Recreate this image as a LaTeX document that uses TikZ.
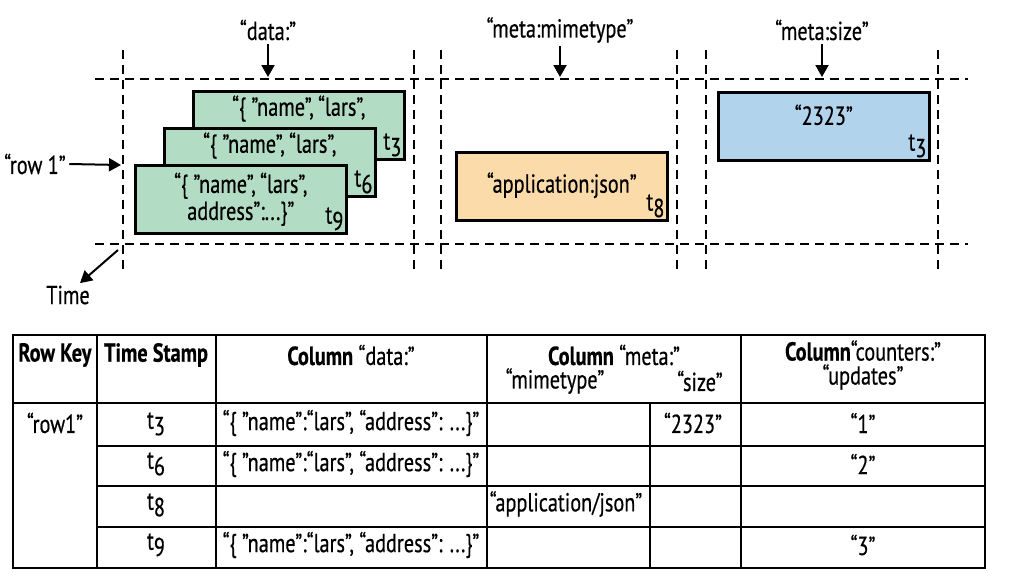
\documentclass[tikz,border=0pt]{standalone}
\usepackage{fontspec}
\setmainfont{PT Sans}[FakeStretch=0.78, FakeBold=0.5]
\usepackage{xcolor}
\usetikzlibrary{positioning, arrows.meta}

\definecolor{datagreen}{RGB}{178,221,196}
\definecolor{mimeorange}{RGB}{252,219,170}
\definecolor{sizeblue}{RGB}{178,211,236}
\newcommand{\tsub}[1]{t\raisebox{-0.5ex}{#1}}

\begin{document}
\begin{tikzpicture}[x=1pt, y=-1pt, font=\fontsize{26}{28}\selectfont,
    grid/.style={line width=2.3pt, dash pattern=on 9pt off 6pt},
    cellbox/.style={draw=black, line width=2.6pt, minimum width=211pt, minimum height=68pt, anchor=north west, inner sep=0pt},
    stamp/.style={anchor=south east, inner sep=4pt},
    down/.style={-{Triangle[length=12pt,width=13pt]}, line width=2pt},
    tline/.style={line width=2.8pt}]
        \useasboundingbox (0,0) rectangle (1015,587);
        % dashed grid
        \draw[grid] (95,79) -- (968,79);
        \draw[grid] (95,244) -- (968,244);
        \draw[grid] (123,50) -- (123,273);
        \draw[grid] (414,50) -- (414,273);
        \draw[grid] (441,50) -- (441,273);
        \draw[grid] (677,50) -- (677,273);
        \draw[grid] (706,50) -- (706,273);
        \draw[grid] (938,50) -- (938,273);
        % column families
        \node (datalbl) at (268,30) {“data:”};
        \node (mimelbl) at (560,30) {“meta:mimetype”};
        \node (sizelbl) at (822,30) {“meta:size”};
        \coordinate (datatop) at (268,77);
        \coordinate (mimetop) at (560,77);
        \coordinate (sizetop) at (822,77);
        \draw[down] (datalbl.south) -- (datatop);
        \draw[down] (mimelbl.south) -- (mimetop);
        \draw[down] (sizelbl.south) -- (sizetop);
        % cells
        \node[cellbox, fill=datagreen] (dthree) at (192,90) {};
        \node[below=2pt of dthree.north] (dthreetxt) {“\{ ”name”,\,“lars”,};
        \node[stamp] (dthreets) at (dthree.south east) {\tsub{3}};
        \node[cellbox, fill=datagreen] (dsix) at (163,127) {};
        \node[below=2pt of dsix.north] (dsixtxt) {“\{ ”name”,\,“lars”,};
        \node[stamp] (dsixts) at (dsix.south east) {\tsub{6}};
        \node[cellbox, fill=datagreen] (dnine) at (134,164) {};
        \node[align=center, inner sep=0pt, font=\fontsize{26}{27}\selectfont] (dninetxt) at (dnine.center) {“\{ ”name”,\,“lars”,\\address”:...\}”};
        \node[stamp] (dninets) at (dnine.south east) {\tsub{9}};
        \node[cellbox, fill=mimeorange] (mime) at (455,151) {};
        \node (mimetxt) at ([yshift=1pt]mime.center) {“application:json”};
        \node[stamp] (mimets) at (mime.south east) {\tsub{8}};
        \node[cellbox, fill=sizeblue] (size) at (717,91) {};
        \node[below=10pt of size.north] (sizetxt) {“2323”};
        \node[stamp] (sizets) at (size.south east) {\tsub{3}};
        % row key and time axis
        \node (rowlbl) at (35,164) {“row 1”};
        \coordinate (rowend) at (121,165);
        \draw[down] (rowlbl.east) -- (rowend);
        \node (timelbl) at (68,295) {Time};
        \coordinate (timestart) at (118,250);
        \draw[down] (timestart) -- ([xshift=12pt, yshift=-1pt]timelbl.north);
        % table
        \draw[tline] (13,335) rectangle (985,568);
        \draw[tline] (13,403) -- (985,403);
        \draw[tline] (97,446) -- (985,446);
        \draw[tline] (97,486) -- (985,486);
        \draw[tline] (97,527) -- (985,527);
        \draw[tline] (97,335) -- (97,568);
        \draw[tline] (216,335) -- (216,568);
        \draw[tline] (487,335) -- (487,568);
        \draw[tline] (650,403) -- (650,568);
        \draw[tline] (741,335) -- (741,568);
        \node (hrow) at (55,355) {\textbf{Row Key}};
        \node (htime) at (156,355) {\textbf{Time Stamp}};
        \node (hdata) at (351,355) {\textbf{Column} “data:”};
        \node (hmeta) at (614,355) {\textbf{Column} “meta:”};
        \node (hmime) at (555,381) {“mimetype”};
        \node (hsize) at (700,381) {“size”};
        \node[align=center, inner sep=0pt, font=\fontsize{26}{24}\selectfont] (hcount) at (863,365) {\textbf{Column}“counters:”\\“updates”};
        \node (rkey) at (55,423) {“row1”};
        \node (tthree) at (156,424) {\tsub{3}};
        \node (tsix) at (156,464) {\tsub{6}};
        \node (teight) at (156,505) {\tsub{8}};
        \node (tnine) at (156,545) {\tsub{9}};
        \node (vdthree) at (351,423) {“\{ ”name”:“lars”, “address”: ...\}”};
        \node (vdsix) at (351,464) {“\{ ”name”:“lars”, “address”: ...\}”};
        \node (vdnine) at (351,545) {“\{ ”name”:“lars”, “address”: ...\}”};
        \node (vsize) at (693,423) {“2323”};
        \node (vmime) at (566,504) {“application/json”};
        \node (vcone) at (863,423) {“1”};
        \node (vctwo) at (863,464) {“2”};
        \node (vcthree) at (863,545) {“3”};
\end{tikzpicture}
\end{document}
